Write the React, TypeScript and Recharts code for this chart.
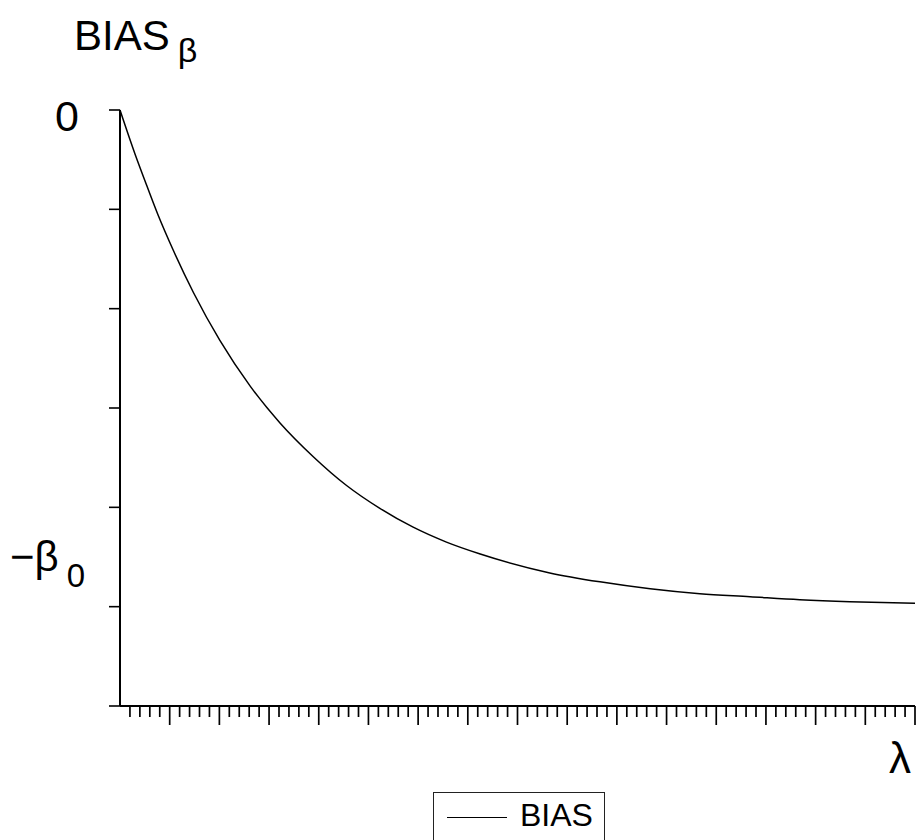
import React from "react";
import { LineChart, Line, XAxis, YAxis, Legend, Label } from "recharts";

// λ (axis units) and BIAS_β; −β0 sits at -5
const lambda = [0, 0.3, 0.5, 0.76, 1.07, 1.48, 2.01, 2.62, 3.22, 3.89, 4.56, 5.23, 5.9, 6.57, 7.25, 8.65, 9.66, 10.67, 11.67, 12.68, 13.68, 14.69, 16];
const bias = [0, -0.44, -0.71, -1.05, -1.41, -1.84, -2.32, -2.78, -3.15, -3.49, -3.78, -4.01, -4.2, -4.35, -4.47, -4.66, -4.75, -4.82, -4.87, -4.9, -4.93, -4.95, -4.965];

const yTicks = [-6, -5, -4, -3, -2, -1, 0];
const yTickLabels = ["", "−β", "", "", "", "", "0"];
const xTicks = Array.from({ length: 80 }, (_, i) => (i + 1) / 5);

const data = lambda.map((l, i) => ({ lambda: l, bias: bias[i] }));

const FONT = "'Liberation Sans', Arial, sans-serif";

function YTick(props: any) {
  const { y, payload } = props;
  const label = yTickLabels[yTicks.indexOf(payload.value)];
  if (!label) return null;
  if (payload.value === 0) {
    return (
      <text x={79} y={y + 21} textAnchor="end" fontSize={43} fontFamily={FONT} fill="#000">
        {label}
      </text>
    );
  }
  return (
    <text x={10} y={y - 36} fontSize={42} fontFamily={FONT} fill="#000">
      {label}
      <tspan dx={8} dy={16} fontSize={33}>0</tspan>
    </text>
  );
}

function XTick(props: any) {
  const { x, y, payload } = props;
  const v = payload.value;
  const major = Math.abs(v - Math.round(v)) < 1e-6;
  return <line x1={x} x2={x} y1={y} y2={y + (major ? 19 : 11)} stroke="#000" strokeWidth={1.7} />;
}

function LegendBox() {
  return (
    <div
      style={{
        boxSizing: "border-box",
        width: 172,
        height: 70,
        border: "1.6px solid #222",
        background: "#fff",
        position: "relative",
        fontFamily: FONT,
      }}
    >
      <div style={{ position: "absolute", left: 13, top: 24, width: 60, borderTop: "1.5px solid #000" }} />
      <div style={{ position: "absolute", left: 86, top: 4, fontSize: 32, lineHeight: "36px" }}>BIAS</div>
    </div>
  );
}

export default function App() {
  return (
    <div style={{ position: "absolute", left: 0, top: 0, width: 921, height: 840, overflow: "hidden", background: "#fff" }}>
      <LineChart width={921} height={840} data={data} margin={{ top: 110, right: 6, bottom: 104, left: 0 }}>
        <XAxis
          dataKey="lambda"
          type="number"
          domain={[0, 16]}
          ticks={xTicks}
          interval={0}
          height={30}
          tickSize={0}
          tickMargin={0}
          tickLine={false}
          tick={<XTick />}
          axisLine={{ stroke: "#000", strokeWidth: 2 }}
        >
          <Label
            content={() => (
              <text x={889} y={773} fontSize={44} fontFamily={FONT} fill="#000">
                λ
              </text>
            )}
          />
        </XAxis>
        <YAxis
          type="number"
          domain={[-6, 0]}
          ticks={yTicks}
          interval={0}
          width={120}
          tickSize={11}
          tickLine={{ stroke: "#000", strokeWidth: 1.6 }}
          tick={<YTick />}
          axisLine={{ stroke: "#000", strokeWidth: 2 }}
        >
          <Label
            content={() => (
              <text x={74} y={50} fontSize={42} fontFamily={FONT} fill="#000">
                BIAS
                <tspan dx={8} dy={12} fontSize={34}>β</tspan>
              </text>
            )}
          />
        </YAxis>
        <Legend
          layout="horizontal"
          verticalAlign="middle"
          align="center"
          content={<LegendBox />}
          wrapperStyle={{ left: 433, top: 792, width: 172, height: 70 }}
        />
        <Line
          type="monotone"
          dataKey="bias"
          name="BIAS"
          stroke="#000"
          strokeWidth={1.5}
          dot={false}
          isAnimationActive={false}
        />
      </LineChart>
    </div>
  );
}
